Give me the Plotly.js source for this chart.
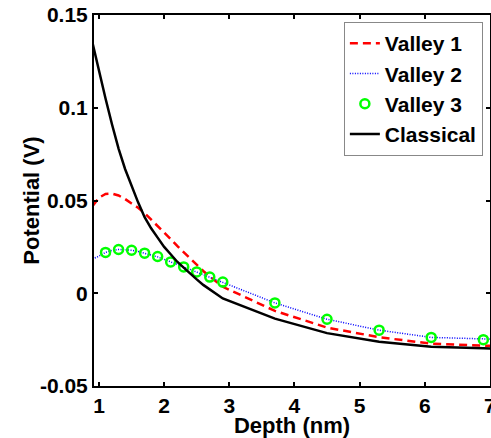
<!DOCTYPE html>
<html>
<head>
<meta charset="utf-8">
<script src="https://cdn.plot.ly/plotly-3.0.1.min.js"></script>
<style>html,body{margin:0;padding:0;background:#fff;}#chart{width:491px;height:438px;}</style>
</head>
<body>
<div id="chart"></div>
<script>
// Depth grid (nm)
const depth = [0.9, 1.0, 1.1, 1.2, 1.3, 1.4, 1.5, 1.6, 1.7, 1.8, 1.9, 2.0, 2.1, 2.2, 2.3, 2.4, 2.5, 2.6, 2.7, 2.8, 2.9, 3.7, 4.5, 5.3, 6.1, 6.9, 7.7];
const valley1 = [0.0470, 0.0515, 0.0535, 0.0537, 0.0527, 0.0508, 0.0484, 0.0461, 0.0432, 0.0398, 0.0363, 0.0328, 0.0292, 0.0255, 0.0221, 0.0185, 0.0152, 0.0120, 0.0090, 0.0062, 0.0035, -0.0095, -0.0185, -0.0237, -0.0272, -0.0283, -0.0287];
const valley2 = [0.0185, 0.0200, 0.0220, 0.0231, 0.0236, 0.0236, 0.0232, 0.0225, 0.0216, 0.0207, 0.0196, 0.0183, 0.0169, 0.0156, 0.0142, 0.0129, 0.0115, 0.0101, 0.0087, 0.0073, 0.0060, -0.0052, -0.0140, -0.0199, -0.0238, -0.0250, -0.0254];
const classical = [0.1350, 0.1195, 0.1050, 0.0910, 0.0780, 0.0670, 0.0575, 0.0490, 0.0410, 0.0350, 0.0300, 0.0250, 0.0210, 0.0170, 0.0138, 0.0105, 0.0075, 0.0045, 0.0020, -0.0005, -0.0028, -0.0137, -0.0215, -0.0262, -0.0289, -0.0297, -0.0300];
// Valley 3 markers
const depth3 = [1.1, 1.3, 1.5, 1.7, 1.9, 2.1, 2.3, 2.5, 2.7, 2.9, 3.7, 4.5, 5.3, 6.1, 6.9];
const valley3 = [0.0220, 0.0236, 0.0232, 0.0216, 0.0198, 0.0169, 0.0142, 0.0115, 0.0087, 0.0060, -0.0052, -0.0140, -0.0199, -0.0238, -0.0250];
// Ticks
const xTickVals = [1, 2, 3, 4, 5, 6, 7];
const xTickText = ["1", "2", "3", "4", "5", "6", "7"];
const yTickVals = [-0.05, 0, 0.05, 0.1, 0.15];
const yTickText = ["-0.05", "0", "0.05", "0.1", "0.15"];

const traces = [
  {x: depth, y: valley1, name: "Valley 1", mode: "lines", line: {color: "#ff0000", width: 2.5, dash: "8px,5px"}},
  {x: depth, y: valley2, name: "Valley 2", mode: "lines", line: {color: "#0000ff", width: 1.5, dash: "1px,1.5px"}},
  {x: depth3, y: valley3, name: "Valley 3", mode: "markers", marker: {symbol: "circle-open", size: 9, color: "#00ff00", line: {width: 2.5, color: "#00ff00"}}},
  {x: depth, y: classical, name: "Classical", mode: "lines", line: {color: "#000000", width: 2.5}}
];

const fam = "Liberation Sans, Arial, sans-serif";
const layout = {
  width: 491, height: 438,
  margin: {l: 94, r: 1, t: 15, b: 52},
  paper_bgcolor: "#fff", plot_bgcolor: "#fff",
  font: {family: fam, size: 21, color: "#000"},
  showlegend: true,
  legend: {x: 0.982, y: 0.981, xanchor: "right", yanchor: "top", bgcolor: "#fff", bordercolor: "#888", borderwidth: 1, font: {family: fam, size: 21, color: "#000", weight: "bold"}},
  xaxis: {
    range: [0.923, 7.002], tickvals: xTickVals, ticktext: xTickText, ticks: "inside", ticklen: 4, tickwidth: 2, tickcolor: "#000",
    ticklabeloverflow: "allow",
    showline: true, linewidth: 2, linecolor: "#000", mirror: "ticks", showgrid: false, zeroline: false,
    tickfont: {family: fam, size: 21, color: "#000", weight: "bold"},
    title: {text: "Depth (nm)", font: {family: fam, size: 22, color: "#000", weight: "bold"}},
    automargin: false
  },
  yaxis: {
    range: [-0.05, 0.15], tickvals: yTickVals, ticktext: yTickText, ticks: "inside", ticklen: 4, tickwidth: 2, tickcolor: "#000",
    showline: true, linewidth: 2, linecolor: "#000", mirror: "ticks", showgrid: false, zeroline: false,
    tickfont: {family: fam, size: 21, color: "#000", weight: "bold"},
    title: {text: "Potential (V)", font: {family: fam, size: 22, color: "#000", weight: "bold"}},
    automargin: false
  }
};
Plotly.newPlot("chart", traces, layout, {displayModeBar: false, staticPlot: true});
</script>
</body>
</html>
